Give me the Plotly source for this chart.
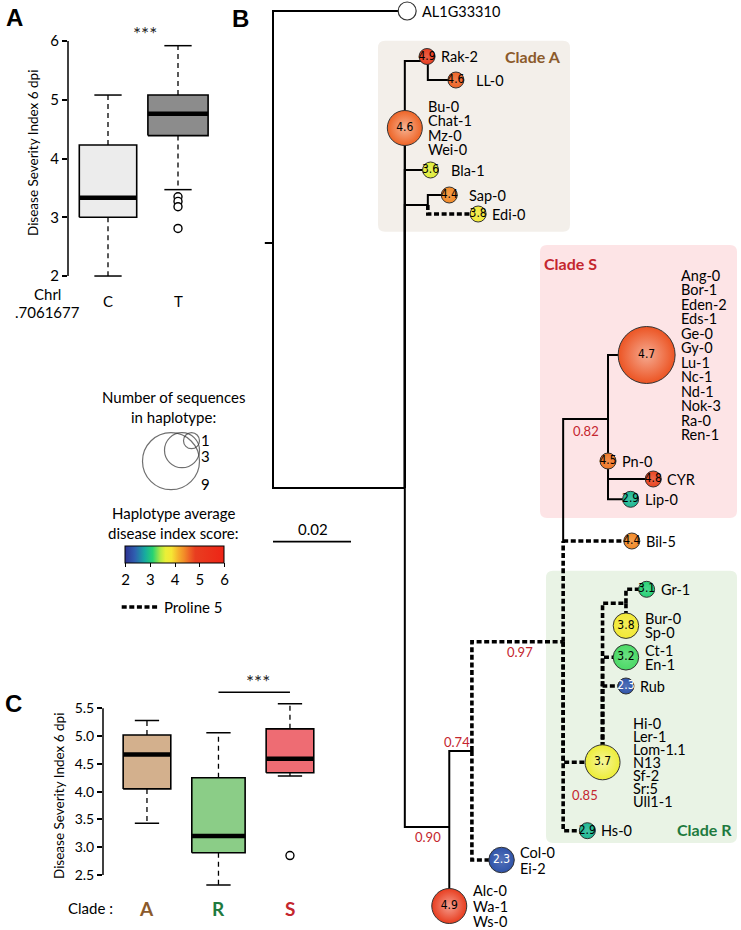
import numpy as np
import plotly.graph_objects as go

W, H = 741, 930
FONT = "Lato"
NARROW = "Liberation Sans Narrow, DejaVu Sans Condensed, Lato"

# ---------------- Panel A : disease index by ChrI.7061677 allele ----------------
a_groups = ["C", "T"]
a_q1 = [3.00, 4.39]
a_med = [3.33, 4.76]
a_q3 = [4.23, 5.08]
a_lo = [2.00, 3.47]
a_hi = [5.08, 5.92]
a_outliers = [[], [3.35, 3.27, 3.18, 2.81]]
a_fill = ["#ececec", "#8c8c8c"]
a_yticks = [2, 3, 4, 5, 6]

# ---------------- Panel C : disease index by clade ----------------
c_groups = ["A", "R", "S"]
c_q1 = [4.05, 2.90, 4.34]
c_med = [4.67, 3.20, 4.59]
c_q3 = [5.02, 4.25, 5.13]
c_lo = [3.43, 2.32, 4.28]
c_hi = [5.28, 5.06, 5.58]
c_outliers = [[], [], [2.85]]
c_fill = ["#d3b08d", "#8bcd87", "#ee6c73"]
c_label_color = ["#8b5a2b", "#1e7a3e", "#c4262e"]
c_yticks = [2.5, 3.0, 3.5, 4.0, 4.5, 5.0, 5.5]

# ---------------- Panel B : haplotype tree ----------------
node_id = ["stem", "root", "AL1", "main", "rak", "Rak2", "LL0", "Bu0", "Bla1", "sap", "Sap0", "Edi0",
           "n90", "Alc0", "n74", "Col0", "n97", "nbil", "Bil5", "n82", "Sbig", "Pn0", "CYR", "Lip0",
           "Hs0", "n85", "Rbig", "ngr", "Gr1", "Bur0", "Ct1", "Rub"]
node_parent = [None, "stem", "root", "root", "main", "rak", "rak", "main", "main", "main", "sap", "sap",
               "main", "n90", "n90", "n74", "n74", "n97", "nbil", "nbil", "n82", "n82", "n82", "n82",
               "n97", "n97", "n85", "n85", "ngr", "ngr", "n85", "n85"]
# distance from root (substitutions/site)
node_dist = [-0.0021, 0.0, 0.0344, 0.0338, 0.0397, 0.0395, 0.0469, 0.0338, 0.0404, 0.0397, 0.0452, 0.0526,
             0.0452, 0.0452, 0.0510, 0.0586, 0.0744, 0.0744, 0.0920, 0.0859, 0.0958, 0.0859, 0.0975, 0.0917,
             0.0806, 0.0845, 0.0845, 0.0905, 0.0958, 0.0905, 0.0905, 0.0905]
# vertical layout row of each node
node_row = [243, 243, 11, 488, 61, 56.5, 80, 128, 170, 205, 195, 214,
            827, 906, 751, 860, 641.7, 541, 541, 419, 355, 461, 479, 499.3,
            830.7, 762.3, 762.3, 603.3, 589.3, 625.7, 657.3, 686]
node_proline5 = [False, False, False, False, False, False, False, False, False, False, False, True,
                 False, False, False, True, True, True, True, False, False, False, False, False,
                 True, True, True, True, True, True, True, True]

support_node = ["n82", "n97", "n74", "n90", "n85"]
support_val = ["0.82", "0.97", "0.74", "0.90", "0.85"]

hap_node = ["AL1", "Rak2", "LL0", "Bu0", "Bla1", "Sap0", "Edi0", "Alc0", "Col0", "Bil5",
            "Sbig", "Pn0", "CYR", "Lip0", "Hs0", "Rbig", "Gr1", "Bur0", "Ct1", "Rub"]
hap_score = [np.nan, 4.9, 4.6, 4.6, 3.6, 4.4, 3.8, 4.9, 2.3, 4.4,
             4.7, 4.5, 4.8, 2.9, 2.9, 3.7, 3.1, 3.8, 3.2, 2.3]
hap_nseq = [1, 1, 1, 3, 1, 1, 1, 3, 2, 1, 9, 1, 1, 1, 1, 3, 1, 2, 2, 1]
hap_names = [["AL1G33310"], ["Rak-2"], ["LL-0"], ["Bu-0", "Chat-1", "Mz-0", "Wei-0"], ["Bla-1"],
             ["Sap-0"], ["Edi-0"], ["Alc-0", "Wa-1", "Ws-0"], ["Col-0", "Ei-2"], ["Bil-5"],
             ["Ang-0", "Bor-1", "Eden-2", "Eds-1", "Ge-0", "Gy-0", "Lu-1", "Nc-1", "Nd-1", "Nok-3", "Ra-0", "Ren-1"],
             ["Pn-0"], ["CYR"], ["Lip-0"], ["Hs-0"],
             ["Hi-0", "Ler-1", "Lom-1.1", "N13", "Sf-2", "Sr:5", "Ull1-1"],
             ["Gr-1"], ["Bur-0", "Sp-0"], ["Ct-1", "En-1"], ["Rub"]]

legend_nseq = [1, 3, 9]
score_ticks = [2, 3, 4, 5, 6]
scale_bar_len = 0.02

COLORSCALE = [
    [0.00, "#2e3192"], [0.10, "#2f5fb0"], [0.20, "#17aaa0"], [0.28, "#27d372"],
    [0.36, "#b6ea42"], [0.41, "#eaef38"], [0.47, "#f6e634"], [0.54, "#f5b02c"],
    [0.60, "#f28a28"], [0.65, "#ee6426"], [0.71, "#e83e20"], [1.00, "#ee2416"],
]
CMIN, CMAX = 2, 6

# ---------------- helpers ----------------
ROOT_PX = 273.0
PX_PER_UNIT = 3900.0   # 0.02 scale bar = 78 px


def tx(px):
    return (px - ROOT_PX) / PX_PER_UNIT


def radius(n):
    return float(np.interp(n, [1, 3, 9], [8.0, 17.5, 28.5]))


def hex2rgb(h):
    h = h.lstrip("#")
    return np.array([int(h[i:i + 2], 16) for i in (0, 2, 4)], float)


def cs_color(v):
    t = (v - CMIN) / (CMAX - CMIN)
    pos = [p for p, _ in COLORSCALE]
    cols = np.array([hex2rgb(c) for _, c in COLORSCALE])
    return np.array([np.interp(t, pos, cols[:, k]) for k in range(3)])


def lighten(v, f):
    c = cs_color(v)
    c = c + (255 - c) * f
    return "rgb(%d,%d,%d)" % tuple(c.round())


def rounded_rect(x0, y0, x1, y1, r):
    rx = r / PX_PER_UNIT
    X0, X1 = tx(x0), tx(x1)
    return (f"M {X0 + rx},{y0} L {X1 - rx},{y0} Q {X1},{y0} {X1},{y0 + r} "
            f"L {X1},{y1 - r} Q {X1},{y1} {X1 - rx},{y1} L {X0 + rx},{y1} "
            f"Q {X0},{y1} {X0},{y1 - r} L {X0},{y0 + r} Q {X0},{y0} {X0 + rx},{y0} Z")


fig = go.Figure()
annotations = []
shapes = []


def ann(text, x, y, xref="paper", yref="paper", size=15, color="black", bold=False,
        xanchor="center", family=FONT, angle=0, xshift=0, yshift=0):
    if bold:
        text = "<b>" + text + "</b>"
    annotations.append(dict(text=text, x=x, y=y, xref=xref, yref=yref, showarrow=False,
                            xanchor=xanchor, yanchor="middle", textangle=angle,
                            xshift=xshift, yshift=yshift,
                            font=dict(family=family, size=size, color=color)))


def P(px, py):
    return px / W, 1 - py / H


def add_boxes(xa, ya, q1, med, q3, lo, hi, outl, fills, half_w, cap_w, med_w):
    for i in range(len(q1)):
        c = i + 1
        hw = half_w[i]
        fig.add_trace(go.Scatter(x=[c, c, None, c, c], y=[q3[i], hi[i], None, q1[i], lo[i]],
                                 mode="lines", xaxis=xa, yaxis=ya, hoverinfo="skip",
                                 line=dict(color="black", width=1.3, dash="5px,4px")))
        fig.add_trace(go.Scatter(x=[c - cap_w, c + cap_w, None, c - cap_w, c + cap_w],
                                 y=[hi[i], hi[i], None, lo[i], lo[i]],
                                 mode="lines", xaxis=xa, yaxis=ya, hoverinfo="skip",
                                 line=dict(color="black", width=1.5)))
        fig.add_trace(go.Scatter(x=[c - hw, c + hw, c + hw, c - hw, c - hw],
                                 y=[q1[i], q1[i], q3[i], q3[i], q1[i]],
                                 mode="lines", fill="toself", fillcolor=fills[i],
                                 xaxis=xa, yaxis=ya, hoverinfo="skip",
                                 line=dict(color="black", width=1.6)))
        fig.add_trace(go.Scatter(x=[c - hw, c + hw], y=[med[i], med[i]], mode="lines",
                                 xaxis=xa, yaxis=ya, hoverinfo="skip",
                                 line=dict(color="black", width=med_w)))
        if outl[i]:
            fig.add_trace(go.Scatter(x=[c] * len(outl[i]), y=outl[i], mode="markers",
                                     xaxis=xa, yaxis=ya, hoverinfo="skip",
                                     marker=dict(size=8, color="white",
                                                 line=dict(color="black", width=1.4))))


# ---------------- Panel A ----------------
add_boxes("x", "y", a_q1, a_med, a_q3, a_lo, a_hi, a_outliers, a_fill,
          half_w=[0.41, 0.43], cap_w=0.195, med_w=4.5)
shapes.append(dict(type="line", xref="x domain", yref="y", x0=0, x1=0, y0=min(a_yticks),
                   y1=max(a_yticks), line=dict(color="black", width=1.5)))
for i, g in enumerate(a_groups):
    ann(g, i + 1, P(0, 301)[1], xref="x", size=15)
ann("***", 1.53, P(0, 33)[1], xref="x", size=19, color="#222222")
ann("Chrl", *P(47, 294), size=15)
ann(".7061677", *P(47, 312), size=15)
ann("Disease Severity Index 6 dpi", *P(33, 153), size=13.5, angle=-90)
ann("A", *P(14, 17), size=24, bold=True, family="Liberation Sans, Arial")

# ---------------- Panel C ----------------
add_boxes("x2", "y2", c_q1, c_med, c_q3, c_lo, c_hi, c_outliers, c_fill,
          half_w=[0.333, 0.373, 0.333], cap_w=0.17, med_w=4.5)
shapes.append(dict(type="line", xref="x2 domain", yref="y2", x0=0, x1=0, y0=min(c_yticks),
                   y1=max(c_yticks), line=dict(color="black", width=1.5)))
fig.add_trace(go.Scatter(x=[2, 3], y=[5.79, 5.79], mode="lines", xaxis="x2", yaxis="y2",
                         hoverinfo="skip", line=dict(color="black", width=1.5)))
ann("***", 2.55, P(0, 681)[1], xref="x2", size=19, color="#222222")
for i, g in enumerate(c_groups):
    ann(g, i + 1, P(0, 908)[1], xref="x2", size=19, bold=True, color=c_label_color[i])
ann("Clade :", *P(90, 908), size=15)
ann("Disease Severity Index 6 dpi", *P(59, 796), size=13.5, angle=-90)
ann("C", *P(13, 703), size=24, bold=True, family="Liberation Sans, Arial")

# ---------------- Panel B : tree ----------------
ann("B", *P(240, 19), size=24, bold=True, family="Liberation Sans, Arial")

for (x0, y0, x1, y1, col) in [(378, 40.7, 570, 231.7, "#f3efea"),
                              (540, 245, 737, 518, "#fde4e6"),
                              (546, 570.7, 737, 843, "#e9f3e5")]:
    shapes.append(dict(type="path", xref="x3", yref="y3", path=rounded_rect(x0, y0, x1, y1, 7),
                       fillcolor=col, line=dict(width=0), layer="below"))
ann("Clade A", tx(503), 56, xref="x3", yref="y3", size=16, bold=True, color="#8b5a2b", xanchor="left")
ann("Clade S", tx(542), 263, xref="x3", yref="y3", size=16, bold=True, color="#c4262e", xanchor="left")
ann("Clade R", tx(734), 829, xref="x3", yref="y3", size=16, bold=True, color="#1e7a3e", xanchor="right")

pos = {n: (d, r) for n, d, r in zip(node_id, node_dist, node_row)}
sx, sy, dx, dy = [], [], [], []
for n, p, d, r, pl in zip(node_id, node_parent, node_dist, node_row, node_proline5):
    if p is None:
        continue
    pxd, pyr = pos[p]
    xs = [pxd, pxd, d, None]
    ys = [pyr, r, r, None]
    if pl:
        dx += xs; dy += ys
    else:
        sx += xs; sy += ys
fig.add_trace(go.Scatter(x=sx, y=sy, mode="lines", xaxis="x3", yaxis="y3", hoverinfo="skip",
                         line=dict(color="black", width=2)))
fig.add_trace(go.Scatter(x=dx, y=dy, mode="lines", xaxis="x3", yaxis="y3", hoverinfo="skip",
                         line=dict(color="black", width=3.6, dash="5px,2.6px")))

for n, v in zip(support_node, support_val):
    i = node_id.index(n)
    par = node_parent[i]
    midx = (pos[par][0] + pos[n][0]) / 2
    off = {"n82": (0, 12), "n97": (2, 10), "n74": (-4, -9), "n90": (1, 10), "n85": (2, 33)}[n]
    ann(v, midx, pos[n][1], xref="x3", yref="y3", size=13, color="#c4262e",
        xshift=off[0], yshift=-off[1], family=FONT)

sc_idx = [i for i, s in enumerate(hap_score) if not np.isnan(s)]
hx = [pos[hap_node[i]][0] for i in sc_idx]
hy = [pos[hap_node[i]][1] for i in sc_idx]
hs = [hap_score[i] for i in sc_idx]
hr = [radius(hap_nseq[i]) for i in sc_idx]
grad = [lighten(hap_score[i], 0.5 if hap_nseq[i] >= 3 else 0.18) for i in sc_idx]
fig.add_trace(go.Scatter(
    x=hx, y=hy, mode="markers+text", xaxis="x3", yaxis="y3", hoverinfo="skip",
    text=["%.1f" % s for s in hs], textposition="middle center",
    textfont=dict(family=NARROW, size=12, color=["white" if s < 2.6 else "black" for s in hs]),
    marker=dict(size=[2 * r for r in hr], color=hs, colorscale=COLORSCALE, cmin=CMIN, cmax=CMAX,
                opacity=1, gradient=dict(type="radial", color=grad),
                line=dict(color="#333333", width=1), showscale=True,
                colorbar=dict(orientation="h", x=175 / W, xanchor="center", y=1 - 546 / H,
                              yanchor="top", len=98.6, lenmode="pixels", thickness=16.7,
                              xpad=0, ypad=0, outlinewidth=1, outlinecolor="black",
                              ticks="outside", ticklen=4, tickcolor="black",
                              tickvals=score_ticks,
                              tickfont=dict(family=FONT, size=15, color="black")))))
i0 = hap_node.index("AL1")
fig.add_trace(go.Scatter(x=[pos["AL1"][0]], y=[pos["AL1"][1]], mode="markers", xaxis="x3", yaxis="y3",
                         hoverinfo="skip", marker=dict(size=2 * radius(hap_nseq[i0]) + 2, color="white",
                                                       line=dict(color="#333333", width=1.2))))

gap = {"LL0": 10, "Bla1": 10, "Sap0": 10, "Rbig": 11}
spacing = {"Rbig": 13.1, "Alc0": 15.5, "Col0": 16}
for i, n in enumerate(hap_node):
    d, r = pos[n]
    names = hap_names[i]
    sp = spacing.get(n, 14.5)
    rr = radius(hap_nseq[i]) + (1 if n == "AL1" else 0)
    for k, nm in enumerate(names):
        yy = r + (k - (len(names) - 1) / 2) * sp
        ann(nm, d, yy, xref="x3", yref="y3", size=14.5, xanchor="left",
            xshift=rr + gap.get(n, 4))

# ---------------- legends ----------------
ann("Number of sequences", tx(173), 396.5, xref="x3", yref="y3", size=15)
ann("in haplotype:", tx(173), 416.5, xref="x3", yref="y3", size=15)
corner_x, corner_y = 199.5, 432.7
lr = [radius(n) for n in legend_nseq]
fig.add_trace(go.Scatter(x=[tx(corner_x - r) for r in lr][::-1], y=[corner_y + r for r in lr][::-1],
                         mode="markers", xaxis="x3", yaxis="y3", hoverinfo="skip",
                         marker=dict(size=[2 * r for r in lr][::-1], color="rgba(255,255,255,0)",
                                     line=dict(color="#333333", width=1.2))))
for n, yy in zip(legend_nseq, [440, 456, 484]):
    ann(str(n), tx(205), yy, xref="x3", yref="y3", size=15)
ann("Haplotype average", tx(173), 513.3, xref="x3", yref="y3", size=15)
ann("disease index score:", tx(173), 533.3, xref="x3", yref="y3", size=15)

fig.add_trace(go.Scatter(x=[tx(121.7), tx(159)], y=[607, 607], mode="lines", xaxis="x3", yaxis="y3",
                         hoverinfo="skip", line=dict(color="black", width=3.6, dash="5px,2.6px")))
ann("Proline 5", tx(162), 607, xref="x3", yref="y3", size=15, xanchor="left")

fig.add_trace(go.Scatter(x=[0, scale_bar_len], y=[541.7, 541.7], mode="lines", xaxis="x3", yaxis="y3",
                         hoverinfo="skip", line=dict(color="black", width=1.8)))
ann("%.2f" % scale_bar_len, scale_bar_len / 2 + tx(ROOT_PX + 1), 529.3, xref="x3", yref="y3", size=15)

# ---------------- layout ----------------
tick_common = dict(showline=False, showgrid=False, zeroline=False, ticks="outside", ticklen=5,
                   tickwidth=1.5, tickcolor="black", tickfont=dict(family=FONT, size=15, color="black"))
fig.update_layout(
    width=W, height=H, margin=dict(l=0, r=0, t=0, b=0, autoexpand=False), showlegend=False,
    paper_bgcolor="white", plot_bgcolor="rgba(0,0,0,0)",
    xaxis=dict(domain=[68 / W, 218 / W], range=[0.4286, 2.5714], visible=False, anchor="y"),
    yaxis=dict(domain=[1 - 281.9 / H, 1 - 35.1 / H], range=[1.9, 6.1], anchor="x",
               tickvals=a_yticks, **tick_common),
    xaxis2=dict(domain=[103 / W, 330 / W], range=[0.385, 3.56], visible=False, anchor="y2"),
    yaxis2=dict(domain=[1 - 891.7 / H, 1 - 688.84 / H], range=[2.2, 5.85], anchor="x2",
                tickvals=c_yticks, tickformat=".1f",
                **{**tick_common, "tickfont": dict(family=FONT, size=14, color="black")}),
    xaxis3=dict(domain=[0, 1], range=[tx(0), tx(W)], visible=False, anchor="y3"),
    yaxis3=dict(domain=[0, 1], range=[H, 0], visible=False, anchor="x3"),
    annotations=annotations, shapes=shapes,
    font=dict(family=FONT, color="black"),
)
fig.write_html("out.html", config={"displayModeBar": False},
               post_script="document.documentElement.style.margin='0';"
                           "document.body.style.margin='0';document.body.style.overflow='hidden';")
